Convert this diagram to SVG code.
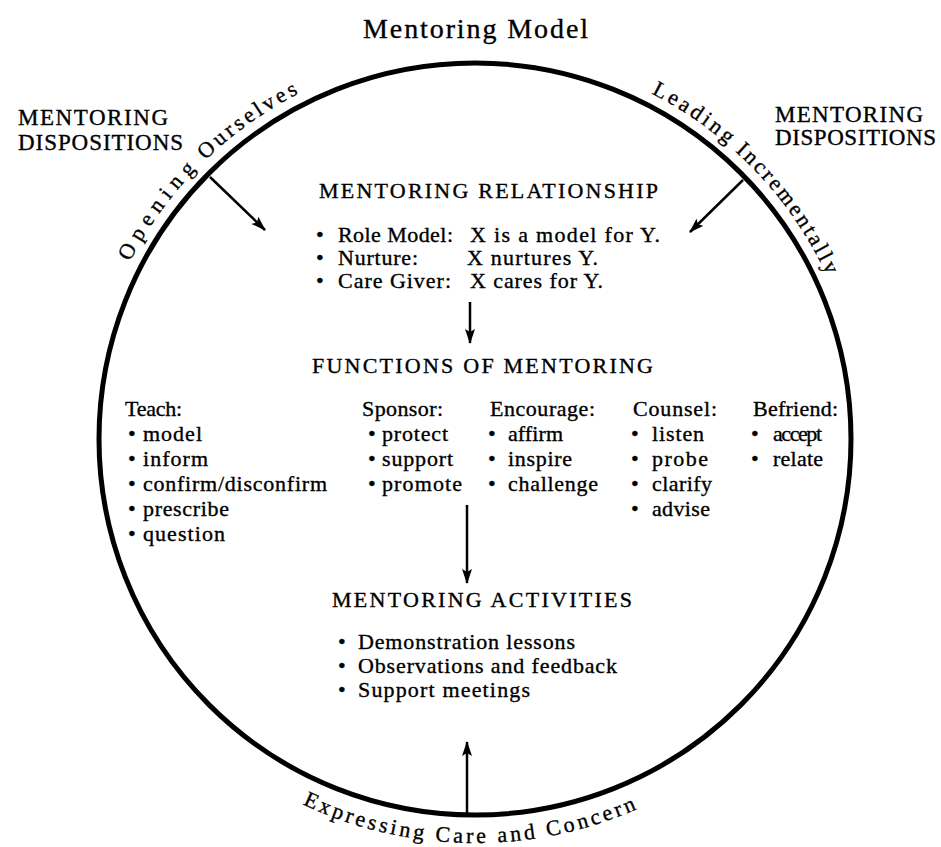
<svg xmlns="http://www.w3.org/2000/svg" width="941" height="847" viewBox="0 0 941 847">
<style>
text{font-family:"Liberation Serif","Times New Roman",serif;fill:#000;stroke:#000;stroke-width:0.35}
.t{font-size:28px}
.d{font-size:23px}
.h{font-size:22px}
.b{font-size:22px}
.c{font-size:22px}
.e{font-size:22px}
.ring{fill:none;stroke:#000;stroke-width:5}
.arr{stroke:#000;stroke-width:2.5;fill:none;marker-end:url(#ah)}
</style>
<defs>
<marker id="ah" viewBox="0 0 15 10" refX="14" refY="5" markerWidth="15" markerHeight="10" markerUnits="userSpaceOnUse" orient="auto"><path d="M0,0 L15,5 L0,10 L3,5 z" fill="#000"/></marker>
<path id="topArc" d="M87,439 A388,388 0 0 1 863,439 A388,388 0 0 1 87,439"/>
<path id="botArc" d="M71,439 A404,404 0 0 0 879,439"/>
</defs>
<rect width="941" height="847" fill="#fff"/>
<g id="title"><text class="t" x="363" y="38" textLength="225">Mentoring Model</text></g>
<g id="ring"><circle class="ring" cx="475" cy="439" r="376"/></g>
<g id="disp-left"><text class="d" x="18" y="125" textLength="150">MENTORING</text><text class="d" x="18" y="150" textLength="165">DISPOSITIONS</text></g>
<g id="disp-right"><text class="d" x="775" y="122" textLength="148">MENTORING</text><text class="d" x="775" y="145" textLength="161">DISPOSITIONS</text></g>
<g id="opening">
<text class="c"><textPath href="#topArc" startOffset="184" textLength="114">Opening</textPath></text>
<text class="c"><textPath href="#topArc" startOffset="311" textLength="115">Ourselves</textPath></text>
</g>
<g id="leading">
<text class="c"><textPath href="#topArc" startOffset="792" textLength="92">Leading</textPath></text>
<text class="c"><textPath href="#topArc" startOffset="894" textLength="155">Incrementally</textPath></text>
</g>
<g id="expressing"><text class="e"><textPath href="#botArc" startOffset="456" textLength="345">Expressing Care and Concern</textPath></text></g>
<g id="relationship">
<text class="h" x="319" y="198" textLength="339">MENTORING RELATIONSHIP</text>
<text class="b" x="316" y="242">•</text><text class="b" x="338" y="242" textLength="115">Role Model:</text><text class="b" x="470" y="242" textLength="190">X is a model for Y.</text>
<text class="b" x="316" y="265">•</text><text class="b" x="338" y="265" textLength="80">Nurture:</text><text class="b" x="467" y="265" textLength="131">X nurtures Y.</text>
<text class="b" x="316" y="288">•</text><text class="b" x="338" y="288" textLength="113">Care Giver:</text><text class="b" x="470" y="288" textLength="133">X cares for Y.</text>
</g>
<g id="functions">
<text class="h" x="312" y="373" textLength="341">FUNCTIONS OF MENTORING</text>
</g>
<g id="teach">
<text class="b" x="125" y="416" textLength="57">Teach:</text>
<text class="b" x="128" y="441">•</text><text class="b" x="143" y="441" textLength="59">model</text>
<text class="b" x="128" y="466">•</text><text class="b" x="143" y="466" textLength="65">inform</text>
<text class="b" x="128" y="491">•</text><text class="b" x="143" y="491" textLength="184">confirm/disconfirm</text>
<text class="b" x="128" y="516">•</text><text class="b" x="143" y="516" textLength="86">prescribe</text>
<text class="b" x="128" y="541">•</text><text class="b" x="143" y="541" textLength="82">question</text>
</g>
<g id="sponsor">
<text class="b" x="362" y="416" textLength="81">Sponsor:</text>
<text class="b" x="368" y="441">•</text><text class="b" x="382" y="441" textLength="66">protect</text>
<text class="b" x="368" y="466">•</text><text class="b" x="382" y="466" textLength="71">support</text>
<text class="b" x="368" y="491">•</text><text class="b" x="382" y="491" textLength="80">promote</text>
</g>
<g id="encourage">
<text class="b" x="490" y="416" textLength="105">Encourage:</text>
<text class="b" x="488" y="441">•</text><text class="b" x="508" y="441" textLength="55">affirm</text>
<text class="b" x="488" y="466">•</text><text class="b" x="508" y="466" textLength="64">inspire</text>
<text class="b" x="488" y="491">•</text><text class="b" x="508" y="491" textLength="90">challenge</text>
</g>
<g id="counsel">
<text class="b" x="633" y="416" textLength="84">Counsel:</text>
<text class="b" x="631" y="441">•</text><text class="b" x="652" y="441" textLength="52">listen</text>
<text class="b" x="631" y="466">•</text><text class="b" x="652" y="466" textLength="56">probe</text>
<text class="b" x="631" y="491">•</text><text class="b" x="652" y="491" textLength="60">clarify</text>
<text class="b" x="631" y="516">•</text><text class="b" x="652" y="516" textLength="58">advise</text>
</g>
<g id="befriend">
<text class="b" x="753" y="416" textLength="85">Befriend:</text>
<text class="b" x="751" y="441">•</text><text class="b" x="773" y="441" textLength="49">accept</text>
<text class="b" x="751" y="466">•</text><text class="b" x="773" y="466" textLength="50">relate</text>
</g>
<g id="activities">
<text class="h" x="332" y="607" textLength="300">MENTORING ACTIVITIES</text>
<text class="b" x="338" y="649">•</text><text class="b" x="358" y="649" textLength="217">Demonstration lessons</text>
<text class="b" x="338" y="673">•</text><text class="b" x="358" y="673" textLength="259">Observations and feedback</text>
<text class="b" x="338" y="697">•</text><text class="b" x="358" y="697" textLength="172">Support meetings</text>
</g>
<g id="connectors">
<line class="arr" x1="210" y1="177" x2="265" y2="230"/>
<line class="arr" x1="743" y1="180" x2="690" y2="232"/>
<line class="arr" x1="470" y1="302" x2="470" y2="343"/>
<line class="arr" x1="467" y1="505" x2="467" y2="583"/>
<line class="arr" x1="467" y1="817" x2="467" y2="742"/>
</g>
</svg>
